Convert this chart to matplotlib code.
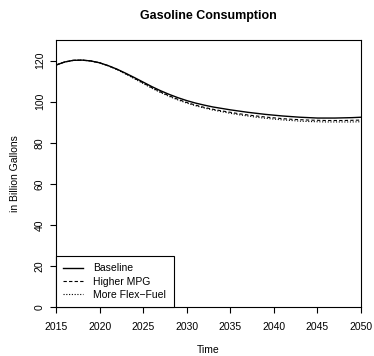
import matplotlib
matplotlib.use("Agg")
import matplotlib.pyplot as plt
import numpy as np

plt.rcParams['font.family'] = ['Liberation Sans', 'DejaVu Sans']

years = list(range(2015, 2051))
baseline = [117.8, 119.3, 120.1, 120.2, 119.8, 118.9, 117.5, 115.8, 113.8, 111.7,
            109.5, 107.3, 105.3, 103.5, 101.9, 100.5, 99.3, 98.3, 97.4, 96.7,
            96.0, 95.4, 94.8, 94.3, 93.8, 93.4, 93.0, 92.7, 92.4, 92.2,
            92.0, 92.0, 92.0, 92.1, 92.2, 92.4]
higher_mpg = [117.8, 119.3, 120.1, 120.2, 119.8, 118.9, 117.5, 115.7, 113.6, 111.4,
              109.1, 106.8, 104.7, 102.8, 101.1, 99.6, 98.3, 97.2, 96.3, 95.5,
              94.8, 94.1, 93.5, 93.0, 92.5, 92.1, 91.7, 91.4, 91.2, 91.0,
              90.9, 90.8, 90.8, 90.8, 90.9, 91.0]
flex_fuel = [117.8, 119.3, 120.1, 120.2, 119.8, 118.9, 117.4, 115.6, 113.4, 111.1,
             108.8, 106.5, 104.4, 102.5, 100.8, 99.3, 98.0, 96.9, 95.9, 95.1,
             94.3, 93.6, 93.0, 92.4, 91.9, 91.5, 91.1, 90.8, 90.5, 90.3,
             90.2, 90.1, 90.1, 90.1, 90.1, 90.2]
series_labels = ["Baseline", "Higher MPG", "More Flex\u2212Fuel"]
xticks = [2015, 2020, 2025, 2030, 2035, 2040, 2045, 2050]
yticks = [0, 20, 40, 60, 80, 100, 120]

fig = plt.figure(figsize=(3.74, 3.56), dpi=100)
ax = fig.add_axes([56/374, 1-307/356, (361-56)/374, (307-40)/356])

ax.plot(years, baseline, color='black', lw=1.0, ls='-', label=series_labels[0])
ax.plot(years, higher_mpg, color='black', lw=0.8, ls=(0, (3, 2)), label=series_labels[1])
ax.plot(years, flex_fuel, color='black', lw=0.8, ls=(0, (1, 1.5)), label=series_labels[2])

ax.set_xlim(2015, 2050)
ax.set_ylim(0, 130)
ax.set_xticks(xticks)
ax.set_yticks(yticks)
ax.tick_params(axis='both', direction='out', length=4, width=0.8, labelsize=7.5, color='black')
ax.tick_params(axis='x', pad=7)
ax.tick_params(axis='y', pad=4)
for lab in ax.get_yticklabels():
    lab.set_rotation(90)
    lab.set_va('center')
for s in ax.spines.values():
    s.set_linewidth(0.8)

ax.set_title("Gasoline Consumption", fontsize=9, fontweight='bold', pad=15)
ax.set_xlabel("Time", fontsize=7.5, labelpad=9.5)
ax.set_ylabel("in Billion Gallons", fontsize=7.5, labelpad=11)

leg = ax.legend(loc='lower left', bbox_to_anchor=(0, 0), borderaxespad=0,
                fancybox=False, edgecolor='black', framealpha=1, fontsize=7.5,
                handlelength=1.9, handletextpad=1.0, labelspacing=0.3,
                borderpad=0.7)
leg.get_frame().set_linewidth(0.8)

fig.savefig("out.png", dpi=100)
